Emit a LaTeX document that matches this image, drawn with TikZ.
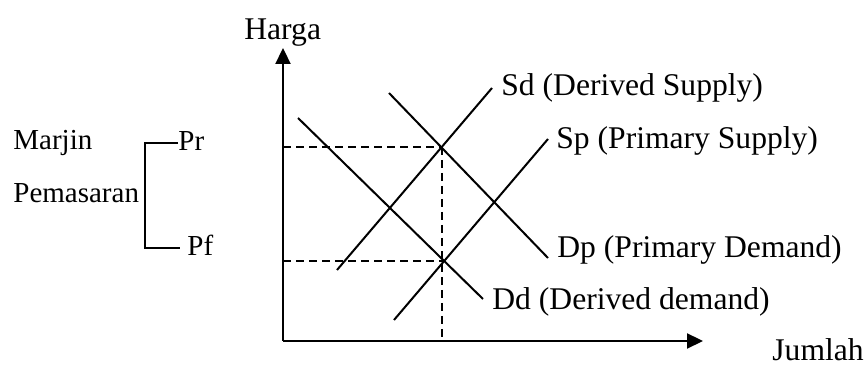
\documentclass[tikz,border=0pt]{standalone}
\usepackage{fontspec}
\setmainfont{Liberation Serif}
\usetikzlibrary{arrows.meta}

\begin{document}
\begin{tikzpicture}[x=0.5pt,y=-0.5pt,
    teks/.style={inner sep=0pt,anchor=base west,font=\fontsize{15.8}{19}\selectfont},
    tekskecil/.style={teks,font=\fontsize{14.5}{17}\selectfont},
    garis/.style={line width=1pt},
    sumbu/.style={line width=1.1pt,-{Triangle[length=8pt,width=7.5pt]}},
    putus/.style={line width=0.9pt,dash pattern=on 4pt off 2.5pt}]
  \useasboundingbox (0,0) rectangle (867,367);
  % sumbu harga dan jumlah
  \coordinate (O) at (283,341);
  \coordinate (ytip) at (283,48);
  \coordinate (xtip) at (703,341);
  \draw[sumbu] (O) -- (ytip);
  \draw[sumbu] (O) -- (xtip);
  \node[teks] (harga) at (244,40) {Harga};
  \node[teks] (jumlah) at (772,361) {Jumlah};
  % kurva permintaan dan penawaran
  \coordinate (dd1) at (298,118); \coordinate (dd2) at (483,299);
  \coordinate (dp1) at (389,93);  \coordinate (dp2) at (548,258);
  \coordinate (sd1) at (337,270); \coordinate (sd2) at (492,88);
  \coordinate (sp1) at (394,320); \coordinate (sp2) at (548,139);
  \draw[garis] (dd1) -- (dd2);
  \draw[garis] (dp1) -- (dp2);
  \draw[garis] (sd1) -- (sd2);
  \draw[garis] (sp1) -- (sp2);
  \node[teks] (lsd) at (501,96)  {Sd (Derived Supply)};
  \node[teks] (lsp) at (556,149) {Sp (Primary Supply)};
  \node[teks] (ldp) at (557,258) {Dp (Primary Demand)};
  \node[teks] (ldd) at (492,310) {Dd (Derived demand)};
  % titik keseimbangan
  \coordinate (E1) at (442,147);
  \coordinate (E2) at (444,261);
  \draw[putus] (O |- E1) -- (E1);
  \draw[putus] (O |- E2) -- (E2);
  \draw[putus] (E1) -- (E1 |- O);
  % marjin pemasaran
  \node[tekskecil] (marjin) at (13,150) {Marjin};
  \node[tekskecil] (pemasaran) at (13,203) {Pemasaran};
  \node[tekskecil] (pr) at (178,151) {Pr};
  \node[tekskecil] (pf) at (187,256) {Pf};
  \coordinate (b1) at (145,143);
  \coordinate (b2) at (145,248);
  \coordinate (b3) at (180,248);
  \draw[garis] (pr.west |- b1) -- (b1) -- (b2) -- (b3);
\end{tikzpicture}
\end{document}
